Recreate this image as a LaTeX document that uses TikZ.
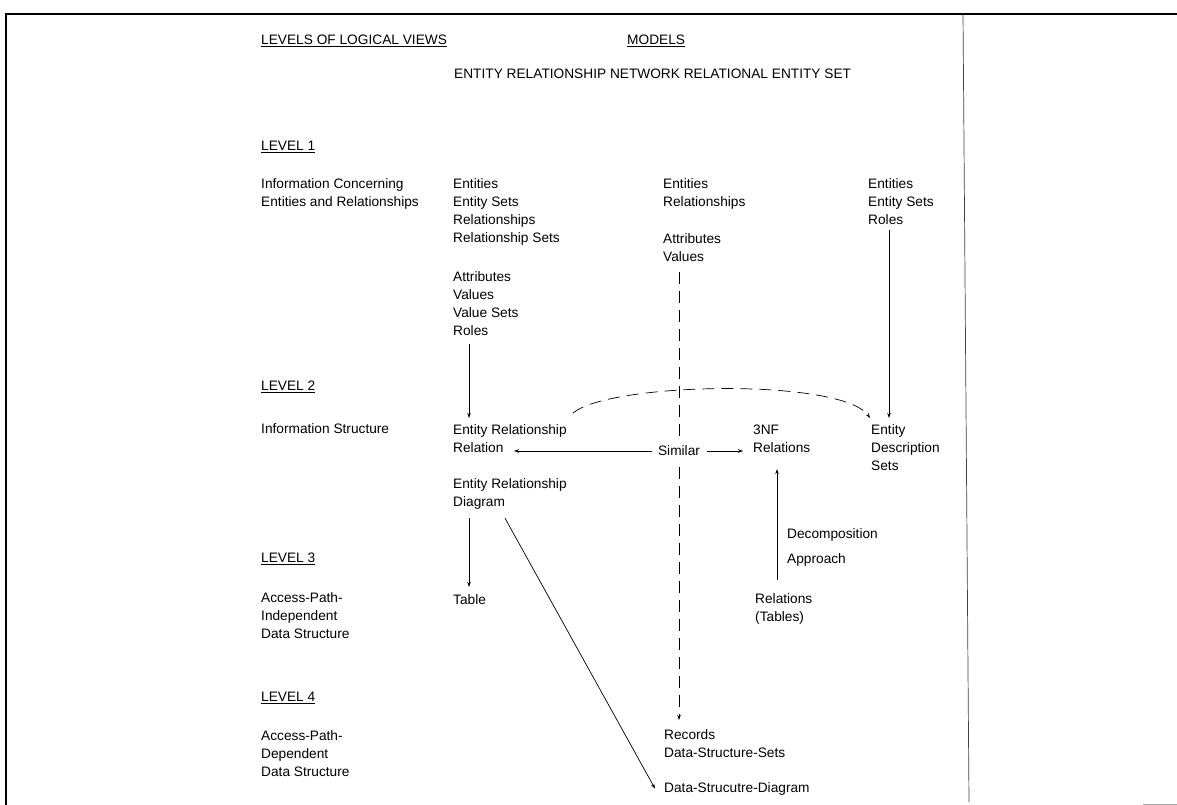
\documentclass[tikz,border=0pt]{standalone}
\usepackage{fontspec}
\setmainfont{Liberation Sans}
\usetikzlibrary{arrows.meta}
\begin{document}
\begin{tikzpicture}[x=1pt,y=-1pt,
  txt/.style={anchor=north west, inner sep=0pt, align=left, font=\fontsize{13.7}{18}\selectfont},
  arr/.style={draw=black, line width=0.7pt, -{Stealth[length=5pt,width=3.5pt]}},
  dasharr/.style={arr, dash pattern=on 12pt off 7pt},
  dashln/.style={draw=black, line width=0.7pt, dash pattern=on 12pt off 7pt}]
\useasboundingbox (0,0) rectangle (1177,805);
\fill[white] (0,0) rectangle (1177,805);
% frame
\draw[line width=1.4pt] (6,805) -- (6,14) -- (1177,14);
\draw[black!75, line width=0.7pt] (963,14) -- (969,802);
\draw[black!35, line width=1pt] (1143,804) -- (1177,804);
% headings
\node[txt] (h1) at (261,35) {\underline{LEVELS OF LOGICAL VIEWS}};
\node[txt] (h2) at (627,35) {\underline{MODELS}};
\node[txt] (h3) at (454,69) {ENTITY RELATIONSHIP NETWORK RELATIONAL ENTITY SET};
% level 1
\node[txt] (l1) at (261,141) {\underline{LEVEL 1}};
\node[txt] (i1) at (261,178) {Information Concerning\\Entities and Relationships};
\node[txt] (c1a) at (453,178) {Entities\\Entity Sets\\Relationships\\Relationship Sets};
\node[txt] (c1b) at (453,271) {Attributes\\Values\\Value Sets\\Roles};
\node[txt] (c2a) at (663,178) {Entities\\Relationships};
\node[txt] (c2b) at (663,233) {Attributes\\Values};
\node[txt] (c3) at (868,178) {Entities\\Entity Sets\\Roles};
% level 2
\node[txt] (l2) at (261,381) {\underline{LEVEL 2}};
\node[txt] (i2) at (261,423) {Information Structure};
\node[txt] (erel) at (453,424) {Entity Relationship\\Relation};
\node[inner sep=0pt, font=\fontsize{13.7}{18}\selectfont] (sim) at (679,451) {Similar};
\node[txt] (nf) at (753,425) {3NF\\Relations};
\node[txt] (eds) at (871,424) {Entity\\Description\\Sets};
\node[txt] (diag) at (453,478) {Entity Relationship\\Diagram};
\node[txt] (dec) at (787,528) {Decomposition};
\node[txt] (app) at (787,553) {Approach};
% level 3
\node[txt] (l3) at (261,553) {\underline{LEVEL 3}};
\node[txt] (i3) at (261,592) {Access-Path-\\Independent\\Data Structure};
\node[txt] (tab) at (453,594) {Table};
\node[txt] (rt) at (755,593) {Relations\\(Tables)};
% level 4
\node[txt] (l4) at (261,692) {\underline{LEVEL 4}};
\node[txt] (i4) at (261,730) {Access-Path-\\Dependent\\Data Structure};
\node[txt] (rec) at (664,729) {Records\\Data-Structure-Sets};
\node[txt] (dsd) at (664,782) {Data-Strucutre-Diagram};
% connectors
\draw[arr] ([xshift=16pt,yshift=-9pt]c1b.south west) -- ([xshift=16pt,yshift=6pt]erel.north west);
\draw[arr] ([xshift=16pt,yshift=-9pt]diag.south west) -- ([xshift=16pt,yshift=7pt]tab.north west);
\draw[arr] ([xshift=52pt,yshift=-9pt]diag.south west) -- ([xshift=-9pt]dsd.west);
\draw[arr] ([xshift=21pt,yshift=-6pt]c3.south west) -- ([xshift=18pt,yshift=6pt]eds.north west);
\draw[dashln] ([xshift=16pt,yshift=-11pt]c2b.south west) -- ([yshift=9pt]sim.north);
\draw[dasharr] ([yshift=-11pt]sim.south) -- ([yshift=9pt]sim.south |- rec.north);
\coordinate (erelin) at ([xshift=61pt]erel.south west);
\draw[arr, shorten <=6pt] (sim.west) -- (sim.west -| erelin);
\draw[arr, shorten <=7pt, shorten >=10pt] (sim.east) -- (sim.east -| nf.west);
\draw[arr] ([xshift=22pt,yshift=13pt]rt.north west) -- ([xshift=24pt,yshift=-16pt]nf.south west);
\draw[dasharr] ([xshift=120pt,yshift=11pt]erel.north west) .. controls +(37,-31) and +(-28,-40) .. ([xshift=-1pt,yshift=6pt]eds.north west);
\end{tikzpicture}
\end{document}
